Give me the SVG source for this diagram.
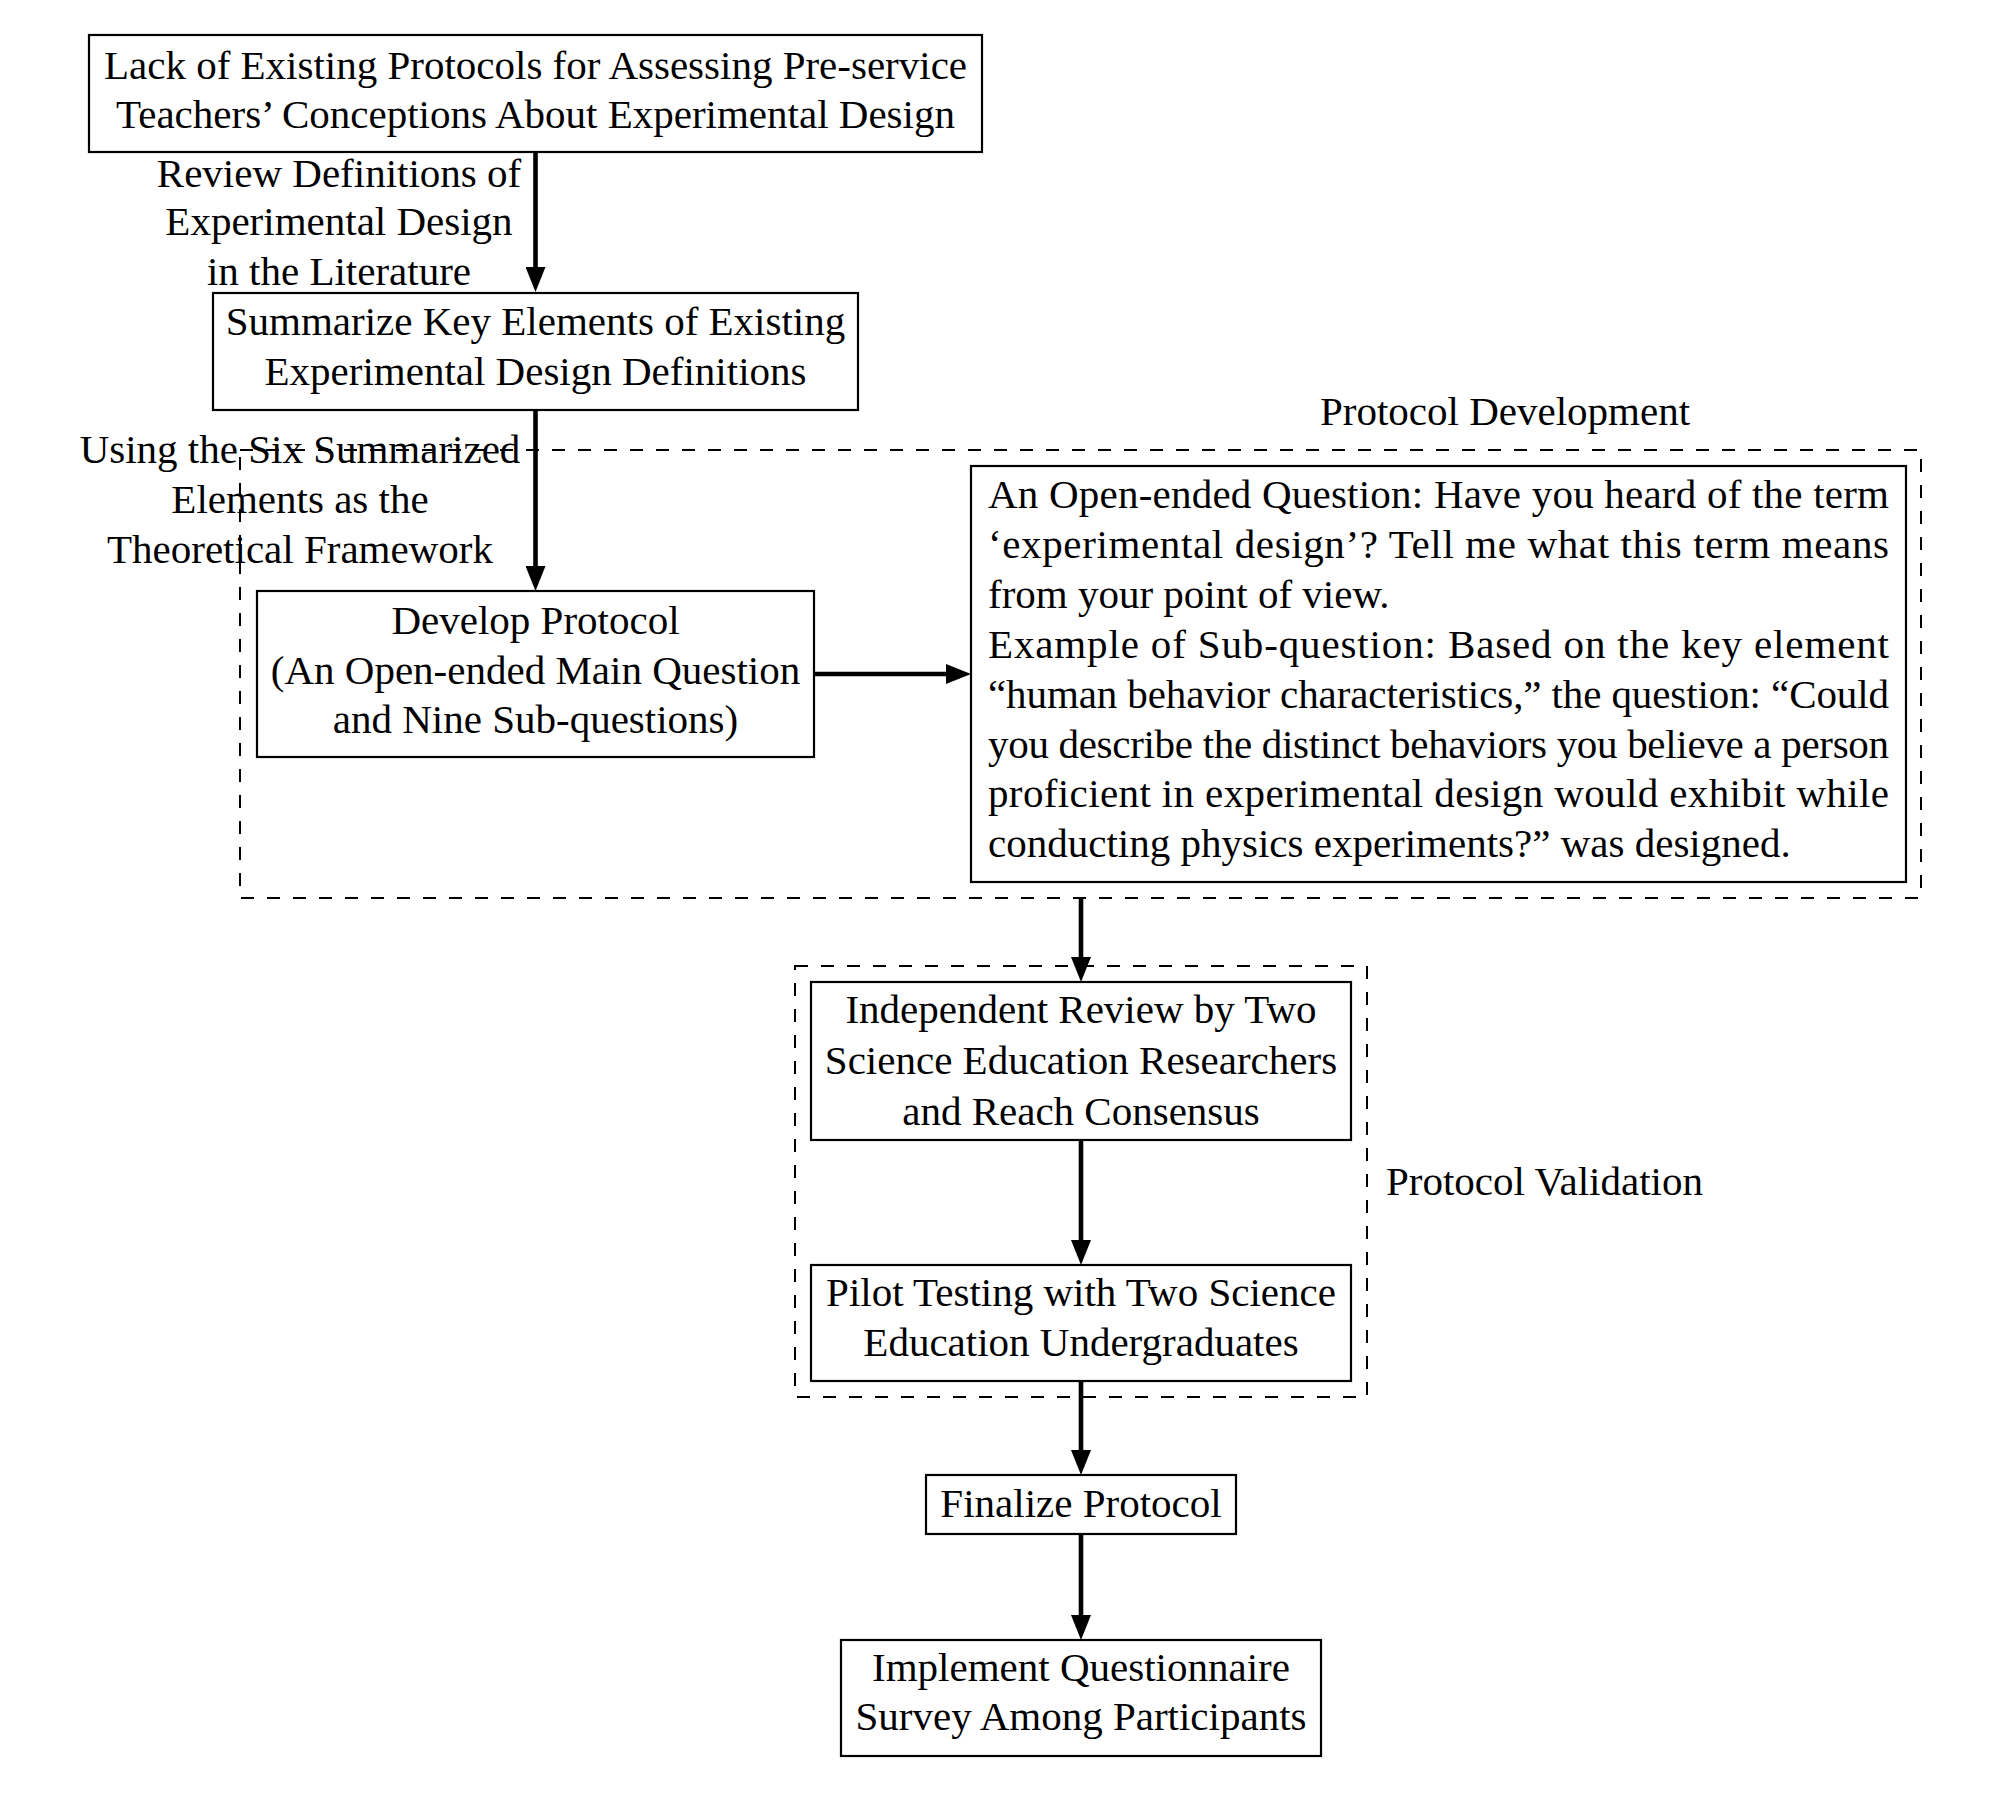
<svg xmlns="http://www.w3.org/2000/svg" width="1990" height="1807" viewBox="0 0 1990 1807">
<style>
  text { font-family: "Liberation Serif", "Times New Roman", serif; font-size: 41px; fill: #000; }
  .c { text-anchor: middle; }
  .box { fill: none; stroke: #000; stroke-width: 2.2; }
  .grp { fill: none; stroke: #000; stroke-width: 2; stroke-dasharray: 13 13; }
  .arr { fill: none; stroke: #000; stroke-width: 4.6; marker-end: url(#ah); }
</style>
<defs>
  <marker id="ah" markerUnits="userSpaceOnUse" viewBox="0 0 25 20" markerWidth="25" markerHeight="20" refX="12" refY="10" orient="auto">
    <path d="M0,0 L25,10 L0,20 Z" fill="#000"/>
  </marker>
</defs>
<rect width="1990" height="1807" fill="#fff"/>

<g id="groups">
  <rect id="protocol-development" class="grp" x="240" y="450" width="1681" height="448"/>
  <text x="1505" y="425" class="c">Protocol Development</text>
  <rect id="protocol-validation" class="grp" x="795" y="966" width="572" height="431"/>
  <text x="1386" y="1195">Protocol Validation</text>
</g>

<g id="connectors">
  <line class="arr" x1="535.5" y1="152" x2="535.5" y2="279"/>
  <line class="arr" x1="535.5" y1="410" x2="535.5" y2="578"/>
  <line class="arr" x1="814" y1="674" x2="958" y2="674"/>
  <line class="arr" x1="1081" y1="898" x2="1081" y2="969"/>
  <line class="arr" x1="1081" y1="1140" x2="1081" y2="1252"/>
  <line class="arr" x1="1081" y1="1381" x2="1081" y2="1462"/>
  <line class="arr" x1="1081" y1="1534" x2="1081" y2="1627"/>
  <g id="edge-labels">
    <text class="c" x="339" y="187">Review Definitions of</text>
    <text class="c" x="339" y="235">Experimental Design</text>
    <text class="c" x="339" y="285">in the Literature</text>
    <text class="c" x="300" y="463">Using the Six Summarized</text>
    <text class="c" x="300" y="513">Elements as the</text>
    <text class="c" x="300" y="563">Theoretical Framework</text>
  </g>
</g>

<g id="n1">
  <rect class="box" x="89" y="35" width="893" height="117"/>
  <text class="c" x="535.5" y="79">Lack of Existing Protocols for Assessing Pre-service</text>
  <text class="c" x="535.5" y="128">Teachers’ Conceptions About Experimental Design</text>
</g>

<g id="n2">
  <rect class="box" x="213" y="293" width="645" height="117"/>
  <text class="c" x="535.5" y="335">Summarize Key Elements of Existing</text>
  <text class="c" x="535.5" y="385">Experimental Design Definitions</text>
</g>

<g id="n3">
  <rect class="box" x="257" y="591" width="557" height="166"/>
  <text class="c" x="535.5" y="634">Develop Protocol</text>
  <text class="c" x="535.5" y="684">(An Open-ended Main Question</text>
  <text class="c" x="535.5" y="733">and Nine Sub-questions)</text>
</g>

<g id="n4">
  <rect class="box" x="971" y="466" width="935" height="416"/>
  <text x="988" y="508" textLength="901" lengthAdjust="spacing">An Open-ended Question: Have you heard of the term</text>
  <text x="988" y="558" textLength="901" lengthAdjust="spacing">‘experimental design’? Tell me what this term means</text>
  <text x="988" y="608">from your point of view.</text>
  <text x="988" y="658" textLength="901" lengthAdjust="spacing">Example of Sub-question: Based on the key element</text>
  <text x="988" y="708" textLength="901" lengthAdjust="spacing">“human behavior characteristics,” the question: “Could</text>
  <text x="988" y="758" textLength="901" lengthAdjust="spacing">you describe the distinct behaviors you believe a person</text>
  <text x="988" y="807" textLength="901" lengthAdjust="spacing">proficient in experimental design would exhibit while</text>
  <text x="988" y="857">conducting physics experiments?” was designed.</text>
</g>

<g id="n5">
  <rect class="box" x="811" y="982" width="540" height="158"/>
  <text class="c" x="1081" y="1023">Independent Review by Two</text>
  <text class="c" x="1081" y="1074">Science Education Researchers</text>
  <text class="c" x="1081" y="1125">and Reach Consensus</text>
</g>

<g id="n6">
  <rect class="box" x="811" y="1265" width="540" height="116"/>
  <text class="c" x="1081" y="1306">Pilot Testing with Two Science</text>
  <text class="c" x="1081" y="1356">Education Undergraduates</text>
</g>

<g id="n7">
  <rect class="box" x="926" y="1475" width="310" height="59"/>
  <text class="c" x="1081" y="1517">Finalize Protocol</text>
</g>

<g id="n8">
  <rect class="box" x="841" y="1640" width="480" height="116"/>
  <text class="c" x="1081" y="1681">Implement Questionnaire</text>
  <text class="c" x="1081" y="1730">Survey Among Participants</text>
</g>
</svg>
